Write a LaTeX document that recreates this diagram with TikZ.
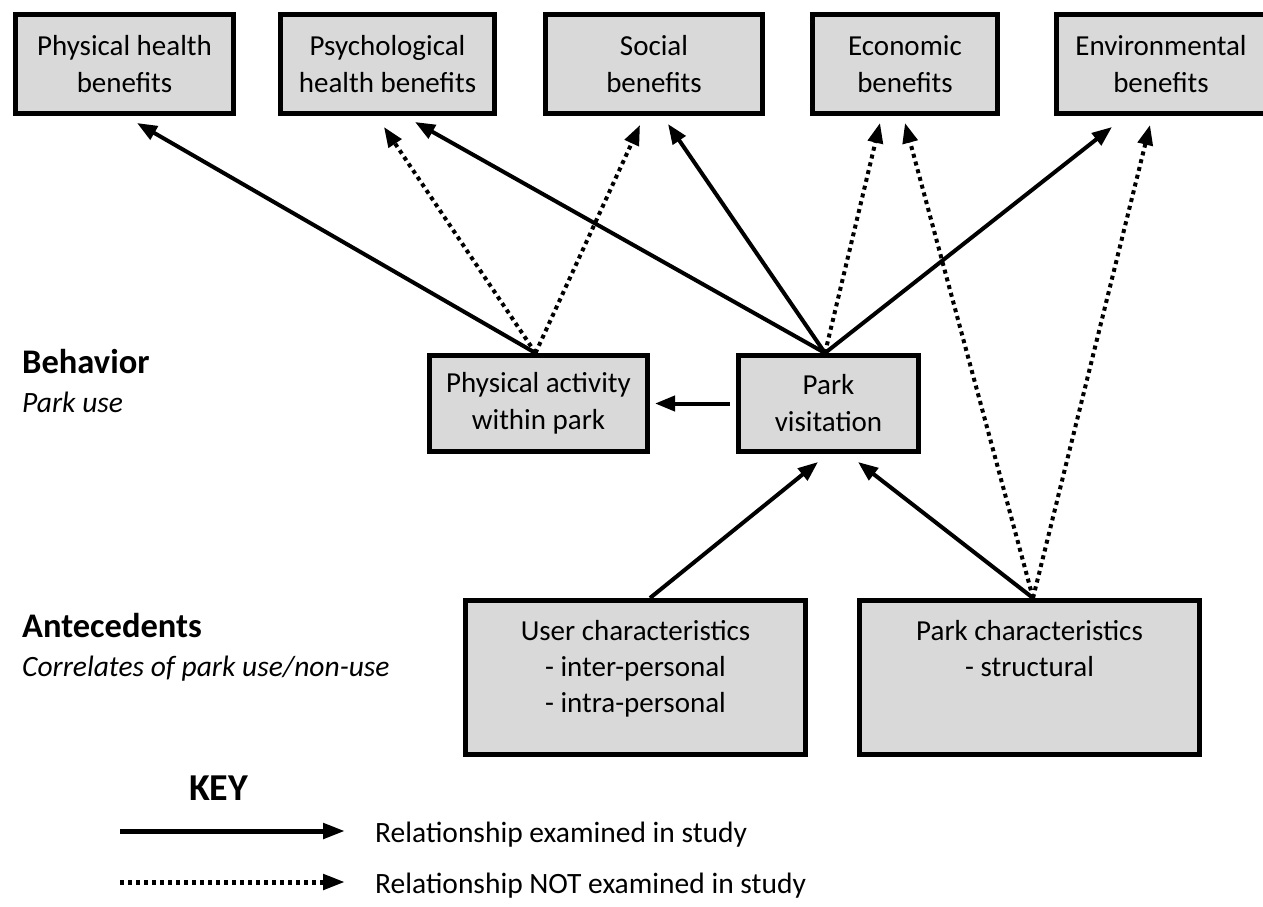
\documentclass[tikz,border=0pt]{standalone}
\usepackage{fontspec}
\setmainfont{Carlito}
\usetikzlibrary{arrows.meta}
\definecolor{boxgray}{RGB}{217,217,217}

\begin{document}
\begin{tikzpicture}[x=1pt,y=-1pt,
  box/.style={draw=black, line width=5pt, fill=boxgray, rectangle, inner sep=0pt,
    font=\fontsize{29}{37}\selectfont, align=center},
  boxtext/.style={font=\fontsize{29}{36}\selectfont, align=center, inner sep=0pt},
  rel/.style={line width=4pt, -{Triangle[length=20pt,width=15pt]}},
  relnot/.style={rel, dash pattern=on 4pt off 4pt},
  keyrel/.style={line width=5pt, -{Triangle[length=22pt,width=15pt]}},
  keyrelnot/.style={keyrel, dash pattern=on 4pt off 4pt},
  heading/.style={font=\fontsize{34.5}{40}\selectfont\bfseries, anchor=base west, inner sep=0pt},
  subhead/.style={font=\fontsize{29.5}{36}\selectfont\itshape, anchor=base west, inner sep=0pt},
  keytext/.style={font=\fontsize{29.5}{36}\selectfont, anchor=base west, inner sep=0pt},
]
\useasboundingbox[fill=white] (0,0) rectangle (1263,907);

% outcome boxes along the top
\node[box, minimum width=218pt, minimum height=99pt] (phys)   at (124.5,64) {Physical health\\benefits};
\node[box, minimum width=214pt, minimum height=99pt] (psych)  at (387.5,64) {Psychological\\health benefits};
\node[box, minimum width=217pt, minimum height=99pt] (social) at (654,64)   {Social\\benefits};
\node[box, minimum width=185pt, minimum height=99pt] (econ)   at (905,64)   {Economic\\benefits};
\node[box, minimum width=209pt, minimum height=99pt] (env)    at (1161,64)  {Environmental\\benefits};

% park use
\node[box, minimum width=218pt, minimum height=96pt] (pa) at (538.5,403.5) {Physical activity\\within park};
\node[box, minimum width=180pt, minimum height=96pt] (pv) at (828.5,403.5) {Park\\visitation};

% antecedents
\node[box, minimum width=340pt, minimum height=154pt] (user)  at (635.5,677.5) {};
\node[box, minimum width=340pt, minimum height=154pt] (parkc) at (1029.5,677.5) {};
\node[boxtext, anchor=north] (usertxt)  at ([yshift=-22pt]user.north)  {User characteristics\\- inter-personal\\- intra-personal};
\node[boxtext, anchor=north] (parkctxt) at ([yshift=-22pt]parkc.north) {Park characteristics\\- structural};

% row headings
\node[heading] (behav) at (22,373) {Behavior};
\node[subhead] (parkuse) at (22,412) {Park use};
\node[heading] (antec) at (22,637) {Antecedents};
\node[subhead] (correl) at (22,676) {Correlates of park use/non-use};

% relationships from physical activity
\draw[rel]    ([xshift=-3pt]pa.north) -- ([xshift=12.5pt,yshift=-7pt]phys.south);
\draw[relnot] ([xshift=-3pt]pa.north) -- ([xshift=-3.5pt,yshift=-11pt]psych.south);
\draw[relnot] ([xshift=-3pt]pa.north) -- ([xshift=-14pt,yshift=-9pt]social.south);

% relationships from park visitation
\draw[rel]    ([xshift=-3.5pt]pv.north) -- ([xshift=27.5pt,yshift=-6pt]psych.south);
\draw[rel]    ([xshift=-3.5pt]pv.north) -- ([xshift=14pt,yshift=-8pt]social.south);
\draw[relnot] ([xshift=-3.5pt]pv.north) -- ([xshift=-25pt,yshift=-7pt]econ.south);
\draw[rel]    ([xshift=-3.5pt]pv.north) -- ([xshift=-49pt,yshift=-11pt]env.south);
\draw[rel]    ([xshift=-6pt]pv.west) -- ([xshift=5pt]pa.east);

% relationships from park characteristics
\draw[relnot] ([xshift=3.5pt]parkc.north) -- ([xshift=0pt,yshift=-7pt]econ.south);
\draw[relnot] ([xshift=3.5pt]parkc.north) -- ([xshift=-11pt,yshift=-9pt]env.south);
\draw[rel]    ([xshift=3.5pt]parkc.north) -- ([xshift=29.5pt,yshift=-8pt]pv.south);

% relationship from user characteristics
\draw[rel]    ([xshift=14.5pt]user.north) -- ([xshift=-10.5pt,yshift=-8pt]pv.south);

% key
\node[font=\fontsize{38}{44}\selectfont\bfseries, anchor=base west, inner sep=0pt] (key) at (189,800) {KEY};
\coordinate (ka1) at (120,831);
\coordinate (kb1) at (345,831);
\coordinate (ka2) at (120,882);
\coordinate (kb2) at (345,882);
\draw[keyrel]    (ka1) -- (kb1);
\draw[keyrelnot] (ka2) -- (kb2);
\node[keytext] (k1txt) at (375,842) {Relationship examined in study};
\node[keytext] (k2txt) at (375,893) {Relationship NOT examined in study};
\end{tikzpicture}
\end{document}
